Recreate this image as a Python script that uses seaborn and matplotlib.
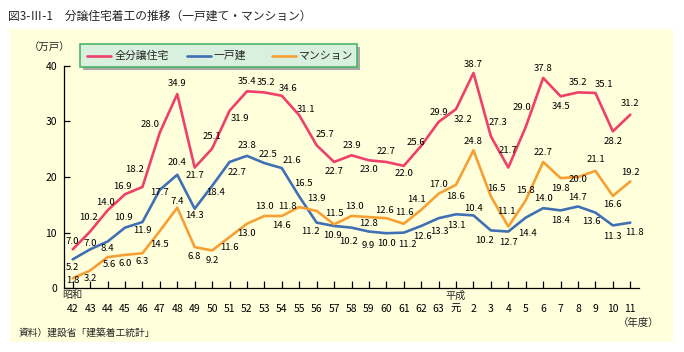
import pandas as pd
import matplotlib.pyplot as plt
import seaborn as sns
from matplotlib.patches import Rectangle
from matplotlib.lines import Line2D

# ==============================================================================
# DATA (万戸, 年度)
# ==============================================================================
years = ['42', '43', '44', '45', '46', '47', '48', '49', '50', '51', '52', '53',
         '54', '55', '56', '57', '58', '59', '60', '61', '62', '63', '元', '2',
         '3', '4', '5', '6', '7', '8', '9', '10', '11']

total = [7.0, 10.2, 14.0, 16.9, 18.2, 28.0, 34.9, 21.7, 25.1, 31.9, 35.4, 35.2,
         34.6, 31.1, 25.7, 22.7, 23.9, 23.0, 22.7, 22.0, 25.6, 29.9, 32.2, 38.7,
         27.3, 21.7, 29.0, 37.8, 34.5, 35.2, 35.1, 28.2, 31.2]
detached = [5.2, 7.0, 8.4, 10.9, 11.9, 17.7, 20.4, 14.3, 18.4, 22.7, 23.8, 22.5,
            21.6, 16.5, 11.8, 11.2, 10.9, 10.2, 9.9, 10.0, 11.2, 12.6, 13.3, 13.1,
            10.4, 10.2, 12.7, 14.4, 14.0, 14.7, 13.6, 11.3, 11.8]
mansion = [1.8, 3.2, 5.6, 6.0, 6.3, 10.3, 14.5, 7.4, 6.8, 9.2, 11.6, 13.0,
           13.0, 14.6, 13.9, 11.5, 13.0, 12.8, 12.6, 11.6, 14.1, 17.0, 18.6, 24.8,
           16.5, 11.1, 15.8, 22.7, 19.8, 20.0, 21.1, 16.6, 19.2]

# printed labels as they appear in the source chart (one per year slot)
total_labels = ['%.1f' % v for v in total]
detached_labels = ['5.2', '7.0', '8.4', '10.9', '11.9', '17.7', '20.4', '14.3', '18.4',
                   '22.7', '23.8', '22.5', '21.6', '16.5', '11.2', '10.9', '10.2', '9.9',
                   '10.0', '11.2', '12.6', '13.3', '13.1', '10.4', '10.2', '12.7', '14.4',
                   '14.0', '18.4', '14.7', '13.6', '11.3', '11.8']
mansion_labels = ['1.8', '3.2', '5.6', '6.0', '6.3', '14.5', '7.4', '6.8', '9.2', '11.6',
                  '13.0', '13.0', '14.6', '11.8', '13.9', '11.5', '13.0', '12.8', '12.6',
                  '11.6', '14.1', '17.0', '18.6', '24.8', '16.5', '11.1', '15.8', '22.7',
                  '19.8', '20.0', '21.1', '16.6', '19.2']

series_names = ['全分譲住宅', '一戸建', 'マンション']

# label offsets in pixels (dx, dy) relative to each point
total_off = [(0, 8), (-2, 14), (-2, 8), (-3, 8), (-8, 18), (-10, 8), (0, 11), (0, -8),
             (0, 12), (10, -8), (0, 10), (2, 10), (6, 7), (7, 6), (8, 11), (0, -10),
             (0, 10), (0, -9), (0, 10), (0, -8), (-5, 3), (0, 9), (7, -10), (0, 8),
             (7, 14), (0, 17), (-4, 19), (0, 9), (0, -10), (0, 10), (9, 8), (0, -10), (0, 11)]
detached_off = [(0, -8), (0, 6), (0, -7), (-1, 10), (0, -8), (0, -3), (0, 12), (0, -7),
                (4, -7), (8, -11), (0, 10), (4, 9), (10, 8), (4, 13), (-6, -9), (-2, -10),
                (-3, -14), (-1, -14), (0, -10), (4, -12), (1, -11), (1, -13), (0, -11),
                (0, 7), (-6, -10), (0, -11), (2, -16), (0, 10), (0, -10), (0, 9), (-4, -9),
                (0, -11), (4, -10)]
mansion_off = [(0, -2), (0, -8), (2, -7), (0, -9), (0, -8), (0, -14), (0, 6), (0, -9),
               (0, -10), (0, -10), (0, -10), (0, 9), (0, -10), (-12, 1), (0, 12), (0, 11),
               (3, 9), (0, -6), (-2, 8), (1, 11), (-5, 10), (0, 9), (0, -12), (0, 9),
               (6, 8), (-2, 15), (0, 10), (0, 9), (0, -10), (0, -2), (0, 11), (0, -9), (0, 9)]

RED = '#EE4068'
BLUE = '#4070B4'
ORANGE = '#F6A033'
PANEL = '#FFFFDC'
FONT = ['Noto Sans CJK JP', 'DejaVu Sans']

sns.set_theme(style='white')
plt.rcParams['font.family'] = FONT

W, H = 684, 352


def fx(px):
    return px / W


def fy(py):
    return 1 - py / H


df = pd.DataFrame({
    'pos': list(range(len(years))) * 3,
    'value': total + detached + mansion,
    'series': [series_names[0]] * len(years) + [series_names[1]] * len(years)
              + [series_names[2]] * len(years),
})
palette = dict(zip(series_names, [RED, BLUE, ORANGE]))

fig = plt.figure(figsize=(W / 100, H / 100), dpi=100)
fig.patch.set_facecolor('white')
fig.patches.append(Rectangle((fx(10), fy(342)), fx(663), 313 / H, transform=fig.transFigure,
                             facecolor=PANEL, edgecolor='none', zorder=-1))

ax = fig.add_axes([fx(64), fy(288.3), fx(639 - 64), (288.3 - 65.7) / H])
ax.set_facecolor('none')
sns.lineplot(data=df, x='pos', y='value', hue='series', palette=palette,
             linewidth=1.9, legend=False, ax=ax)

for vals, labels, offs in [(total, total_labels, total_off),
                           (detached, detached_labels, detached_off),
                           (mansion, mansion_labels, mansion_off)]:
    for i, (v, lab, (dx, dy)) in enumerate(zip(vals, labels, offs)):
        ax.annotate(lab, xy=(i, v), xytext=(dx, dy), textcoords='offset pixels',
                    ha='center', va='center', fontsize=6.9, color='black')

ax.set_xlim(-0.5, 32.5)
ax.set_ylim(0, 40)
ax.set_xticks(range(len(years)))
ax.set_xticklabels(years)
ax.set_yticks([0, 10, 20, 30, 40])
ax.tick_params(axis='x', direction='in', length=5, width=0.9, pad=11, labelsize=7.5,
               colors='black', bottom=True)
ax.tick_params(axis='y', direction='in', length=4.5, width=0.9, pad=5, labelsize=7.5,
               colors='black', left=True)
ax.set_xlabel('')
ax.set_ylabel('')
for side in ['top', 'right']:
    ax.spines[side].set_visible(False)
for side in ['left', 'bottom']:
    ax.spines[side].set_color('black')
    ax.spines[side].set_linewidth(0.9)

ax.annotate('昭和', xy=(0, 0), xytext=(0, -7), textcoords='offset pixels',
            ha='center', va='center', fontsize=7.3)
ax.annotate('平成', xy=(years.index('元'), 0), xytext=(0, -7), textcoords='offset pixels',
            ha='center', va='center', fontsize=7.3)

# titles and notes
fig.text(fx(8), fy(16), '図3-Ⅲ-1　分譲住宅着工の推移（一戸建て・マンション）',
         ha='left', va='center', fontsize=8.5)
fig.text(fx(50), fy(48), '（万戸）', ha='center', va='center', fontsize=7.5)
fig.text(fx(639), fy(323), '（年度）', ha='center', va='center', fontsize=7.5)
fig.text(fx(19), fy(333), '資料）建設省「建築着工統計」', ha='left', va='center', fontsize=7)

# legend box with shadow
fig.patches.append(Rectangle((fx(83), fy(70)), fx(277), 23 / H, transform=fig.transFigure,
                             facecolor='#A8A8A8', edgecolor='none', zorder=2))
fig.patches.append(Rectangle((fx(80), fy(67)), fx(277), 23 / H, transform=fig.transFigure,
                             facecolor='#DAF0DE', edgecolor='#4CB464', linewidth=1.2, zorder=3))
entries = [(87, 115), (187, 214), (272, 299)]
for name, (lx, tx) in zip(series_names, entries):
    fig.lines.append(Line2D([fx(lx), fx(lx + 24)], [fy(55.5), fy(55.5)], transform=fig.transFigure,
                            color=palette[name], linewidth=1.9, zorder=4))
    fig.text(fx(tx), fy(55.5), name, ha='left', va='center', fontsize=7.8, zorder=4)

fig.savefig('out.png', dpi=100, facecolor='white')
